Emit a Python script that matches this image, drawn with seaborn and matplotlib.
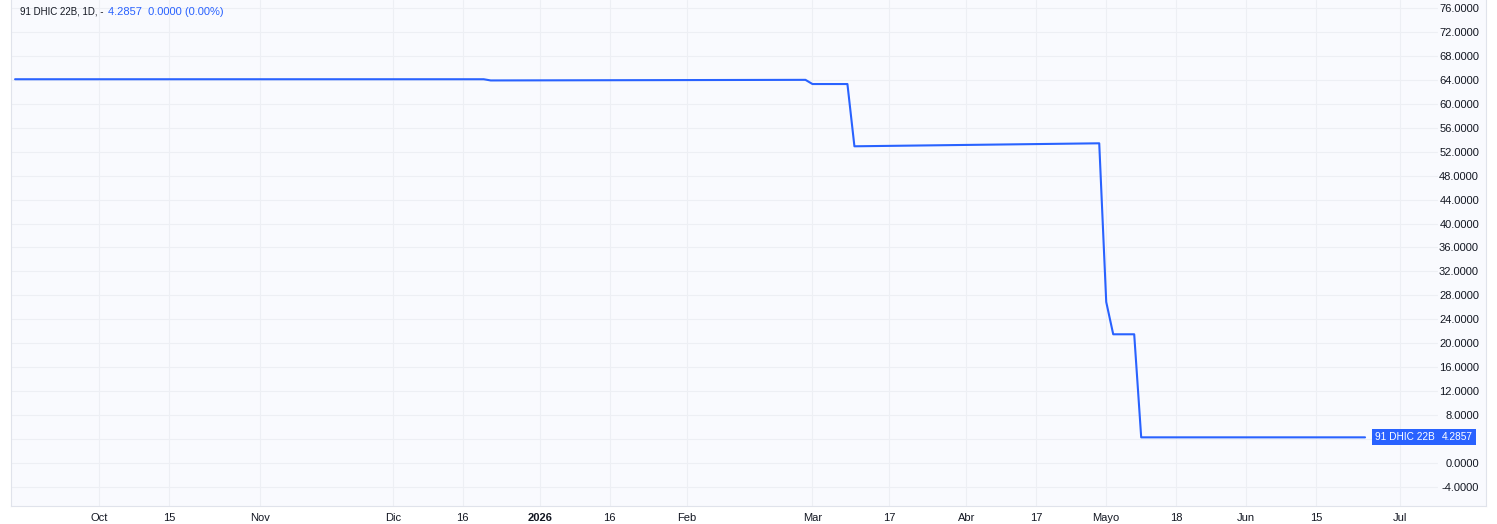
import numpy as np
import pandas as pd
import seaborn as sns
import matplotlib.pyplot as plt
import matplotlib.transforms as mtransforms

# price path (daily closes at the turning points)
dates = ['2025-09-15', '2025-12-19', '2025-12-22', '2026-02-27', '2026-03-02',
         '2026-03-09', '2026-03-10', '2026-04-30', '2026-05-04', '2026-05-05',
         '2026-05-08', '2026-05-11', '2026-06-24']
prices = [64.1, 64.1, 63.9, 64.0, 63.3,
          63.3, 52.9, 53.4, 26.9, 21.5,
          21.5, 4.2857, 4.2857]

# time axis labels (Spanish locale)
tick_dates = ['2025-10-01', '2025-10-15', '2025-11-03', '2025-12-01', '2025-12-16',
              '2026-01-02', '2026-01-16', '2026-02-02', '2026-03-02', '2026-03-17',
              '2026-04-01', '2026-04-17', '2026-05-04', '2026-05-18', '2026-06-01',
              '2026-06-15', '2026-07-01']
tick_labels = ['Oct', '15', 'Nov', 'Dic', '16', '2026', '16', 'Feb', 'Mar', '17',
               'Abr', '17', 'Mayo', '18', 'Jun', '15', 'Jul']

price_ticks = np.arange(-4, 77, 4)

holidays = ['2025-11-24', '2025-12-08', '2025-12-25', '2026-01-01',
            '2026-02-16', '2026-02-17', '2026-04-02', '2026-04-03', '2026-05-01']

symbol = '91 DHIC 22B'
last = 4.2857

BLUE = '#2962FF'
TXT = '#131722'
GRID = '#EDEFF4'
BG = '#F9FAFE'

start = '2025-09-15'


def bar_index(d):
    # TradingView spaces bars by session, not by calendar day
    return np.busday_count(start, np.array(d, dtype='datetime64[D]'), holidays=holidays)


df = pd.DataFrame({'bar': bar_index(dates), 'price': prices})
tick_pos = bar_index(tick_dates)

sns.set_style('white')
plt.rcParams['font.family'] = ['Liberation Sans', 'DejaVu Sans']

W, H = 1497, 524
fig = plt.figure(figsize=(W / 100, H / 100), dpi=100)
fig.patch.set_facecolor('white')
L, R, T, B = 11, 1486, 0, 506
ax = fig.add_axes([L / W, 1 - B / H, (R - L) / W, (B - T) / H])
ax.set_facecolor(BG)

sns.lineplot(data=df, x='bar', y='price', color=BLUE, linewidth=1.5, ax=ax)

# x limits: Oct at px 99 and Jul at px 1400
p0, p1 = tick_pos[0], tick_pos[-1]
scale = (1400 - 99) / (p1 - p0)
ax.set_xlim(p0 - (99 - L) / scale, p1 + (R - 1400) / scale)
# y limits: 76 at px 8 and 0 at px 463
ys = (463 - 8) / 76
ax.set_ylim(-(B - 463) / ys, 76 + (8 - T) / ys)

# grid
for p in tick_pos:
    ax.axvline(p, color=GRID, lw=0.8, zorder=0)
for v in price_ticks:
    ax.axhline(v, xmax=(1437 - L) / (R - L), color=GRID, lw=0.8, zorder=0)

ax.set_xticks(tick_pos)
ax.set_xticklabels(tick_labels, fontsize=8, color=TXT)
for lab in ax.get_xticklabels():
    if lab.get_text() == '2026':
        lab.set_fontweight('bold')
ax.tick_params(axis='x', length=0, pad=5)

ax.yaxis.tick_right()
ax.set_yticks(price_ticks)
# the 4.0000 label sits under the last-price tag
ax.set_yticklabels(['' if v == 4 else f'{v:.4f}' for v in price_ticks],
                   fontsize=8, color=TXT, ha='right')
ax.tick_params(axis='y', length=0, pad=-5)
ax.set_xlabel('')
ax.set_ylabel('')

for s in ax.spines.values():
    s.set_color('#E0E3EB')
    s.set_linewidth(0.8)
ax.spines['top'].set_visible(False)

# last price tags
trans = mtransforms.blended_transform_factory(ax.transAxes, ax.transData)
box = dict(boxstyle='square,pad=0.3', fc=BLUE, ec='none')
ax.text((1405 - L) / (R - L), last, symbol, transform=trans, ha='center', va='center',
        fontsize=7.3, color='white', bbox=box, zorder=5)
ax.text((1457 - L) / (R - L), last, f'{last:.4f}', transform=trans, ha='center', va='center',
        fontsize=7.3, color='white', bbox=box, zorder=5)

# legend line
fig.text(20 / W, 1 - 12 / H, f'{symbol}, 1D, -', fontsize=7, color=TXT, va='center')
fig.text(108 / W, 1 - 12 / H, f'{last:.4f}  0.0000 (0.00%)', fontsize=8, color=BLUE, va='center')

fig.savefig('out.png', dpi=100)
